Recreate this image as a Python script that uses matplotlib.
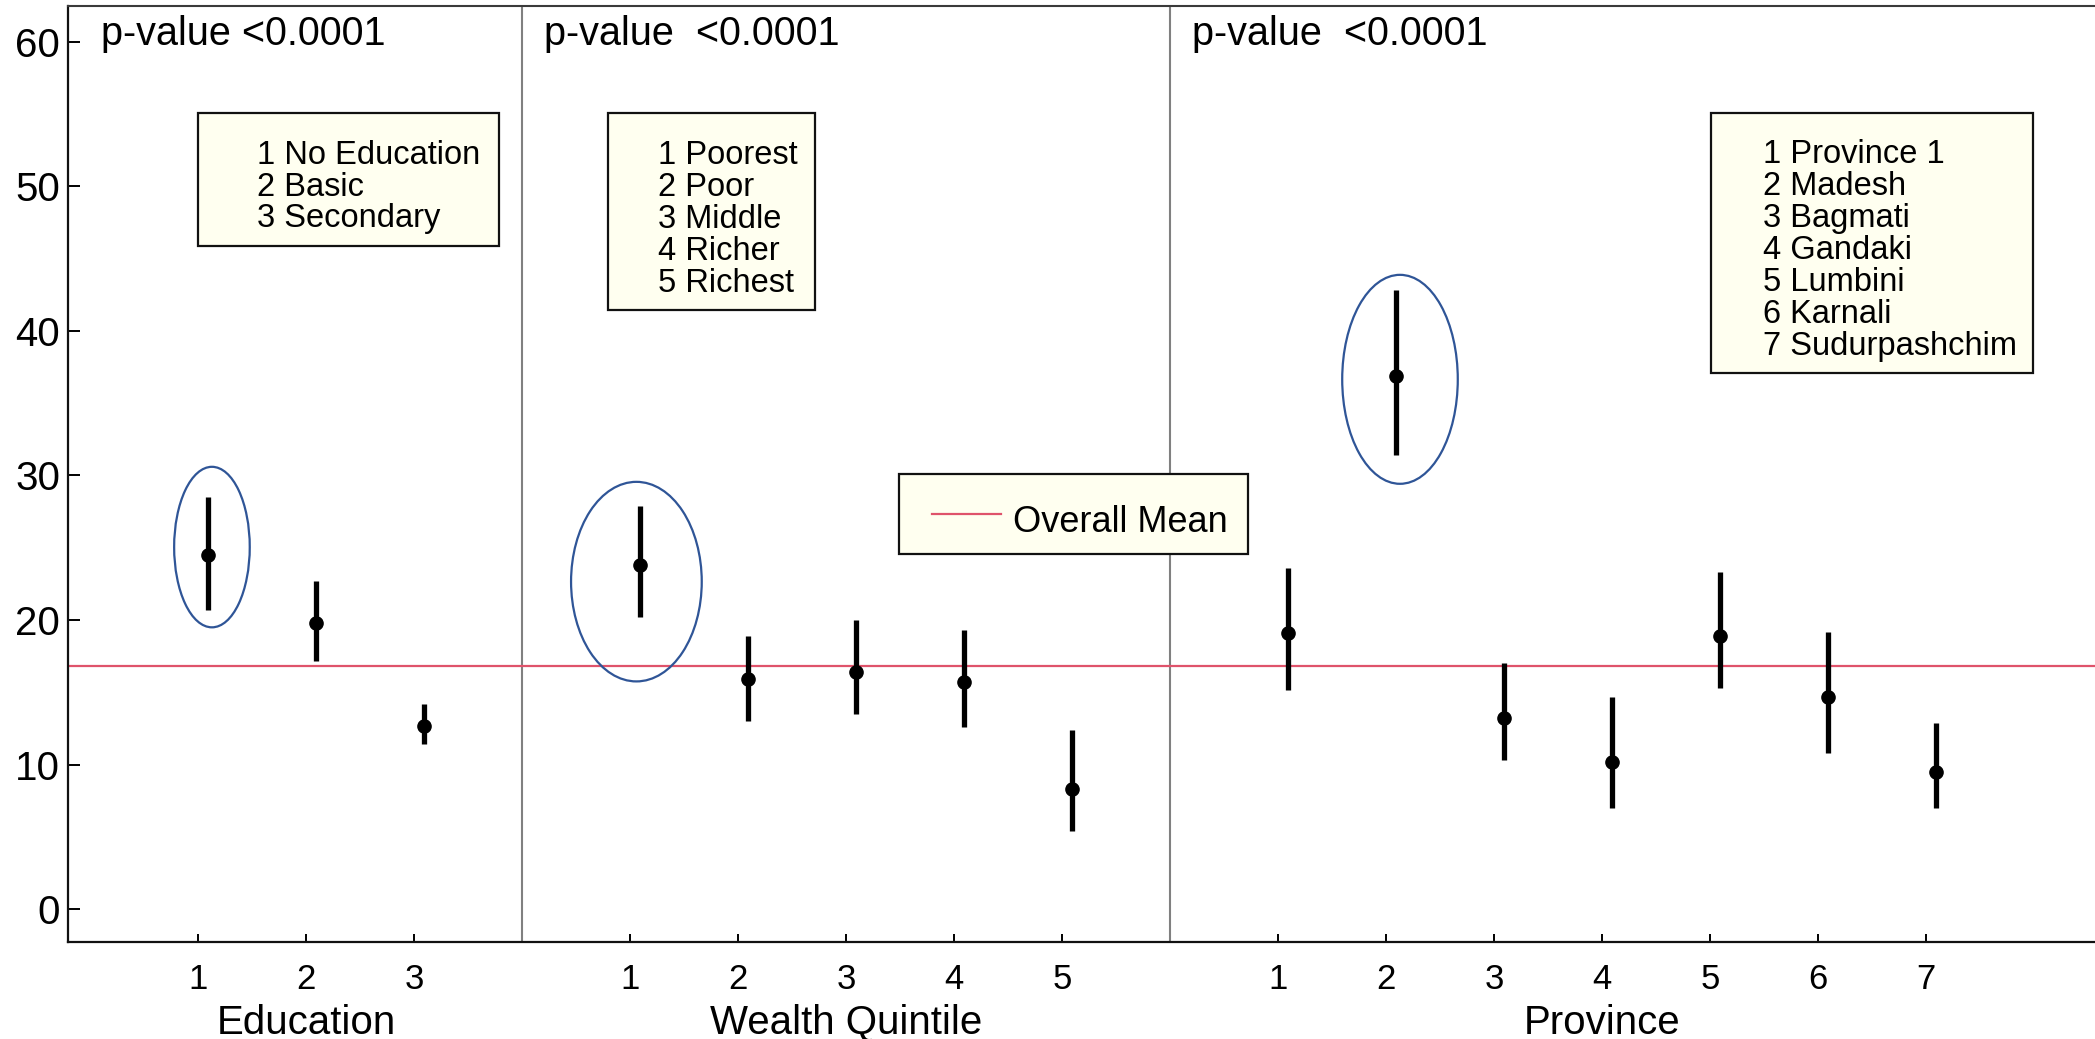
import numpy as np
import matplotlib.pyplot as plt
from matplotlib.patches import Ellipse, Rectangle
from matplotlib.lines import Line2D

plt.rcParams['font.family'] = ['Liberation Sans', 'DejaVu Sans']

# ---- data ----
edu_labels = ['No Education', 'Basic', 'Secondary']
edu_mean = [24.5, 19.8, 12.7]
edu_lo = [20.7, 17.2, 11.4]
edu_hi = [28.5, 22.7, 14.2]

wealth_labels = ['Poorest', 'Poor', 'Middle', 'Richer', 'Richest']
wealth_mean = [23.8, 15.9, 16.4, 15.7, 8.3]
wealth_lo = [20.2, 13.0, 13.5, 12.6, 5.4]
wealth_hi = [27.9, 18.9, 20.0, 19.3, 12.4]

prov_labels = ['Province 1', 'Madesh', 'Bagmati', 'Gandaki', 'Lumbini',
               'Karnali', 'Sudurpashchim']
prov_mean = [19.1, 36.9, 13.2, 10.2, 18.9, 14.7, 9.5]
prov_lo = [15.2, 31.4, 10.3, 7.0, 15.3, 10.8, 7.0]
prov_hi = [23.6, 42.8, 17.0, 14.7, 23.3, 19.2, 12.9]

overall_mean = 16.8
group_names = ['Education', 'Wealth Quintile', 'Province']
p_texts = ['p-value <0.0001', 'p-value  <0.0001', 'p-value  <0.0001']

groups = [
    (edu_labels, edu_mean, edu_lo, edu_hi),
    (wealth_labels, wealth_mean, wealth_lo, wealth_hi),
    (prov_labels, prov_mean, prov_lo, prov_hi),
]

# highlighted categories: (group, category, dx, centre y, width, height)
highlights = [(0, 0, 0.13, 25.05, 0.70, 11.1),
              (1, 0, 0.06, 22.66, 1.21, 13.8),
              (2, 1, 0.13, 36.65, 1.07, 14.45)]

W, H = 2095, 1039
MEAN_COL = '#DF536B'
RING_COL = '#2F5597'
BOX_FILL = '#FFFFF0'


def fx(px):
    return px / W


def fy(py):
    return 1 - py / H


fig = plt.figure(figsize=(W / 100, H / 100), dpi=100)
ax = fig.add_axes([fx(68.3), fy(942), 1 - fx(68.3), (942 - 5.5) / H])

# positions: groups separated by one empty slot with a divider
starts = []
s = 1
for g in groups:
    starts.append(s)
    s += len(g[0]) + 1

ticks, ticklabels = [], []
for gi, (labels, mean, lo, hi) in enumerate(groups):
    pos = starts[gi] + np.arange(len(labels))
    ticks += list(pos)
    ticklabels += [str(i + 1) for i in range(len(labels))]
    xp = pos + 0.09
    ax.vlines(xp, lo, hi, color='black', lw=3.8, zorder=3)
    ax.plot(xp, mean, 'o', color='black', ms=9.5, zorder=4)
    if gi < len(groups) - 1:
        ax.axvline(starts[gi] + len(labels), color='#808080', lw=1.5, zorder=1)
    ax.text(pos.mean(), -0.098, group_names[gi], transform=ax.get_xaxis_transform(),
            ha='center', va='baseline', fontsize=29)
    px = 0.1 if gi == 0 else starts[gi] - 0.8
    ax.text(px, 59.77, p_texts[gi], ha='left', va='baseline', fontsize=28.5)

ax.axhline(overall_mean, color=MEAN_COL, lw=1.6, zorder=2, label='Overall Mean')

for gi, ci, dx, cy, w, h in highlights:
    ax.add_patch(Ellipse((starts[gi] + ci + dx, cy), w, h, fill=False,
                         ec=RING_COL, lw=1.6, zorder=5))

ax.set_xlim(-0.2, 18.565)
ax.set_ylim(-2.26, 62.5)
ax.set_xticks(ticks)
ax.set_xticklabels(ticklabels)
ax.set_yticks(np.arange(0, 61, 10))
ax.tick_params(axis='x', direction='in', length=5.8, width=1.4, pad=15, labelsize=25)
ax.tick_params(axis='y', direction='in', length=8.4, width=1.4, pad=6, labelsize=29)

for side in ['left', 'bottom']:
    ax.spines[side].set_linewidth(1.6)
    ax.spines[side].set_color('#111111')
ax.spines['top'].set_linewidth(1.5)
ax.spines['top'].set_color('#3a3a3a')
ax.spines['right'].set_visible(False)

# category keys (boxes in pixel layout): labels, left, top, right, text inset
keys = [(edu_labels, 198, 113, 499, 59),
        (wealth_labels, 608, 113, 815, 50),
        (prov_labels, 1710.7, 112.7, 2033.3, 52)]
for labels, left, top, right, inset in keys:
    bh = 36.6 + 32 * len(labels)
    fig.add_artist(Rectangle((fx(left), fy(top + bh)), (right - left) / W, bh / H,
                             transform=fig.transFigure, fc=BOX_FILL, ec='#111111',
                             lw=1.6, zorder=6))
    for i, lab in enumerate(labels):
        fig.text(fx(left + inset), fy(top + 50.5 + 32 * i), f'{i + 1} {lab}',
                 fontsize=23.5, ha='left', va='baseline', zorder=7)

# overall mean key
fig.add_artist(Rectangle((fx(899), fy(554)), (1248 - 899) / W, 80 / H,
                         transform=fig.transFigure, fc=BOX_FILL, ec='#111111',
                         lw=1.6, zorder=6))
fig.add_artist(Line2D([fx(932), fx(1001)], [fy(514.3), fy(514.3)],
                      transform=fig.transFigure, color=MEAN_COL, lw=1.6, zorder=7))
fig.text(fx(1013), fy(531.7), 'Overall Mean', fontsize=26, ha='left',
         va='baseline', zorder=7)

fig.savefig('out.png', dpi=100)
